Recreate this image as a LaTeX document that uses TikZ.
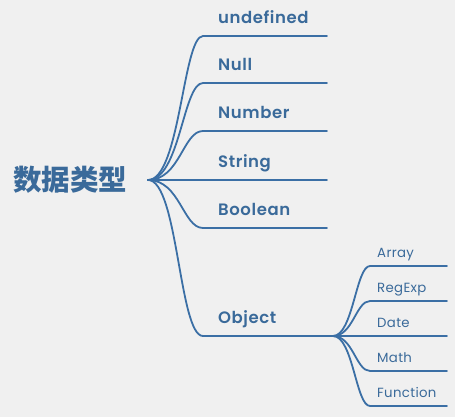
\documentclass[tikz,border=0pt]{standalone}
\usepackage{fontspec}
\setmainfont{Poppins}[BoldFont={Poppins SemiBold}]
\newfontfamily\cjk{Noto Sans CJK SC}
\definecolor{bgc}{HTML}{F0F0F0}
\definecolor{linec}{HTML}{3B6FA5}
\definecolor{textc}{HTML}{3A6A9A}
\tikzset{
  conn/.style={draw=linec, line width=1.8pt, line cap=round},
  rootlab/.style={text=textc, font=\cjk\bfseries\fontsize{28.5}{31}\selectfont, inner sep=0pt},
  toplab/.style={text=textc, font=\bfseries\fontsize{16.5}{19}\selectfont\addfontfeatures{LetterSpace=3.5}, inner sep=0pt, anchor=base west},
  sublab/.style={text=textc, font=\fontsize{13.3}{16}\selectfont\addfontfeatures{LetterSpace=2.5}, inner sep=0pt, anchor=base west},
}
\begin{document}
\begin{tikzpicture}[x=1pt,y=-1pt]
\fill[bgc] (0,0) rectangle (455,417);
\useasboundingbox (0,0) rectangle (455,417);
\node[rootlab, anchor=west] (root) at (13,180) {数据类型};
\coordinate (o) at (148,180);
% top-level branches
\foreach \i/\y/\t in {1/36/undefined,2/83/Null,3/131/Number,4/180/String,5/228/Boolean}{
  \coordinate (s\i) at (203,\y);
  \coordinate (e\i) at (327,\y);
  \node[toplab] (l\i) at (218,\y-12.5) {\t};
  \draw[conn] (o) .. controls +(32,0) and +(-20,0) .. (s\i) -- (e\i);
}
% Object
\coordinate (s6) at (203,336);
\coordinate (p) at (333,336);
\node[toplab] (l6) at (218,323.5) {Object};
\draw[conn] (o) .. controls +(30,0) and +(-24,0) .. (s6) -- (p);
% sub branches
\foreach \j/\y/\t in {1/266/Array,2/301/RegExp,3/336/Date,4/371/Math,5/406/Function}{
  \coordinate (ss\j) at (370,\y);
  \coordinate (se\j) at (447,\y);
  \node[sublab] (sl\j) at (377,\y-9) {\t};
  \draw[conn] (p) .. controls +(20,0) and +(-14,0) .. (ss\j) -- (se\j);
}
\end{tikzpicture}
\end{document}
